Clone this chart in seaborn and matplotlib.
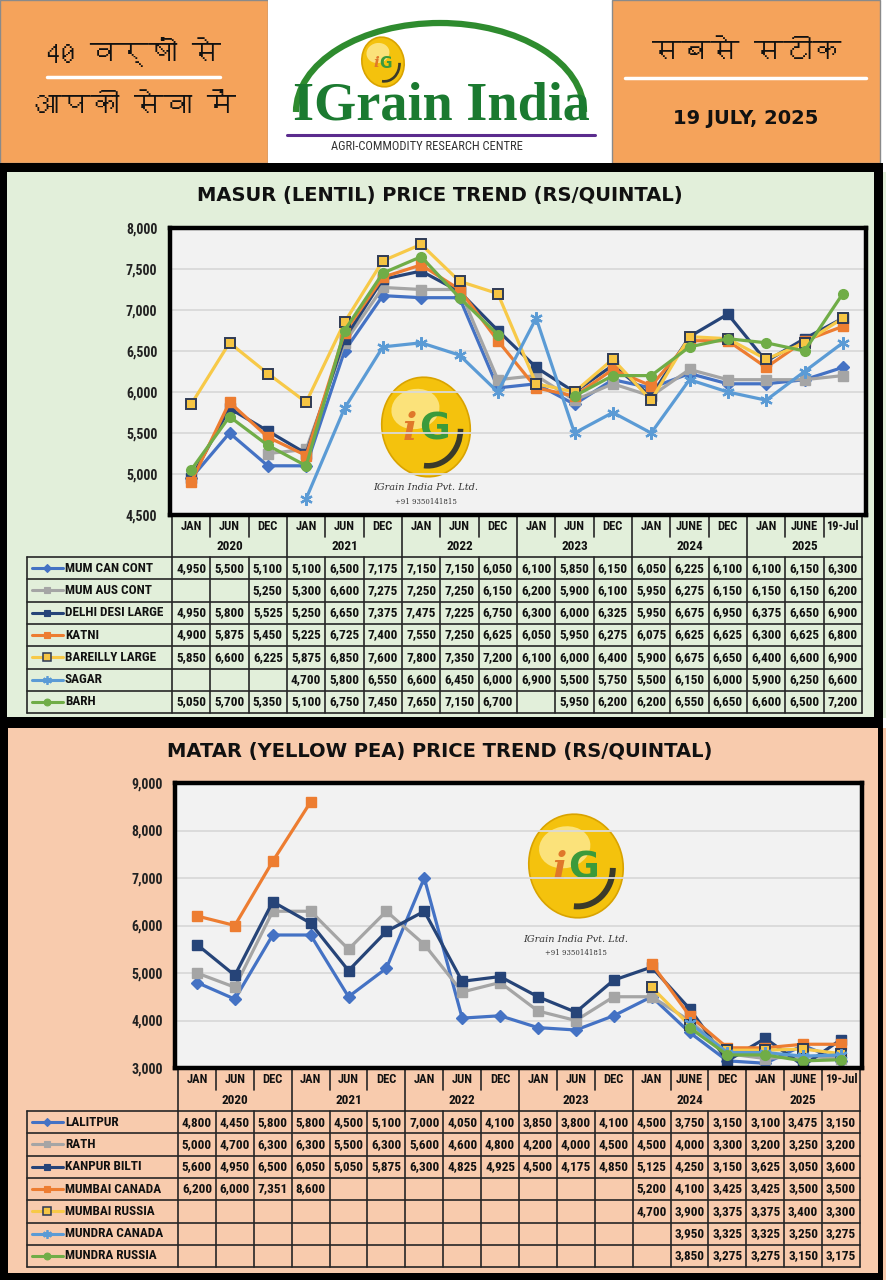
import numpy as np
import pandas as pd
import matplotlib
matplotlib.use("Agg")
import matplotlib.pyplot as plt
from matplotlib import font_manager as fm
from matplotlib.ft2font import FT2Font
from matplotlib.patches import Rectangle, Ellipse, Arc
import seaborn as sns

# ---------------- data ----------------
months = ["JAN", "JUN", "DEC", "JAN", "JUN", "DEC", "JAN", "JUN", "DEC",
          "JAN", "JUN", "DEC", "JAN", "JUNE", "DEC", "JAN", "JUNE", "19-Jul"]
years = ["2020", "2021", "2022", "2023", "2024", "2025"]

# masur (lentil), Rs/quintal
mum_can_cont = [4950, 5500, 5100, 5100, 6500, 7175, 7150, 7150, 6050, 6100, 5850, 6150, 6050, 6225, 6100, 6100, 6150, 6300]
mum_aus_cont = [None, None, 5250, 5300, 6600, 7275, 7250, 7250, 6150, 6200, 5900, 6100, 5950, 6275, 6150, 6150, 6150, 6200]
delhi_desi_large = [4950, 5800, 5525, 5250, 6650, 7375, 7475, 7225, 6750, 6300, 6000, 6325, 5950, 6675, 6950, 6375, 6650, 6900]
katni = [4900, 5875, 5450, 5225, 6725, 7400, 7550, 7250, 6625, 6050, 5950, 6275, 6075, 6625, 6625, 6300, 6625, 6800]
bareilly_large = [5850, 6600, 6225, 5875, 6850, 7600, 7800, 7350, 7200, 6100, 6000, 6400, 5900, 6675, 6650, 6400, 6600, 6900]
sagar = [None, None, None, 4700, 5800, 6550, 6600, 6450, 6000, 6900, 5500, 5750, 5500, 6150, 6000, 5900, 6250, 6600]
barh = [5050, 5700, 5350, 5100, 6750, 7450, 7650, 7150, 6700, None, 5950, 6200, 6200, 6550, 6650, 6600, 6500, 7200]

# matar (yellow pea), Rs/quintal
lalitpur = [4800, 4450, 5800, 5800, 4500, 5100, 7000, 4050, 4100, 3850, 3800, 4100, 4500, 3750, 3150, 3100, 3475, 3150]
rath = [5000, 4700, 6300, 6300, 5500, 6300, 5600, 4600, 4800, 4200, 4000, 4500, 4500, 4000, 3300, 3200, 3250, 3200]
kanpur_bilti = [5600, 4950, 6500, 6050, 5050, 5875, 6300, 4825, 4925, 4500, 4175, 4850, 5125, 4250, 3150, 3625, 3050, 3600]
mumbai_canada = [6200, 6000, 7351, 8600, None, None, None, None, None, None, None, None, 5200, 4100, 3425, 3425, 3500, 3500]
mumbai_russia = [None] * 12 + [4700, 3900, 3375, 3375, 3400, 3300]
mundra_canada = [None] * 13 + [3950, 3325, 3325, 3250, 3275]
mundra_russia = [None] * 13 + [3850, 3275, 3275, 3150, 3175]

masur_names = ["MUM CAN CONT", "MUM AUS CONT", "DELHI DESI LARGE", "KATNI", "BAREILLY LARGE", "SAGAR", "BARH"]
masur_data = [mum_can_cont, mum_aus_cont, delhi_desi_large, katni, bareilly_large, sagar, barh]
matar_names = ["LALITPUR", "RATH", "KANPUR BILTI", "MUMBAI CANADA", "MUMBAI RUSSIA", "MUNDRA CANADA", "MUNDRA RUSSIA"]
matar_data = [lalitpur, rath, kanpur_bilti, mumbai_canada, mumbai_russia, mundra_canada, mundra_russia]

# one style per series position (same Excel palette in both charts)
styles = [
    dict(color="#4472C4", marker="D", ms=6, mfc="#4472C4", mec="#4472C4", mew=1),
    dict(color="#A5A5A5", marker="s", ms=7, mfc="#A5A5A5", mec="#A5A5A5", mew=1),
    dict(color="#264478", marker="s", ms=7, mfc="#264478", mec="#264478", mew=1),
    dict(color="#ED7D31", marker="s", ms=7, mfc="#ED7D31", mec="#ED7D31", mew=1),
    dict(color="#F7C948", marker="s", ms=7.5, mfc="#F6C544", mec="#2F3B55", mew=1.4),
    dict(color="#5B9BD5", marker=(6, 2, 0), ms=9, mfc="#5B9BD5", mec="#5B9BD5", mew=1.6),
    dict(color="#70AD47", marker="o", ms=7, mfc="#70AD47", mec="#70AD47", mew=1),
]

# ---------------- fonts ----------------
sns.set_style("white")
installed = {f.name for f in fm.fontManager.ttflist}


def pick(cands):
    for c in cands:
        if c in installed:
            return c
    return "DejaVu Sans"


narrow = pick(["Liberation Sans Narrow", "Roboto Condensed", "Open Sans Condensed", "Liberation Sans"])
deva = None
for f in fm.fontManager.ttflist:
    try:
        if FT2Font(f.fname).get_char_index(0x0915):
            deva = f.name
            break
    except Exception:
        pass
deva_family = [deva, "DejaVu Sans"] if deva else ["DejaVu Sans"]
plt.rcParams["font.family"] = ["DejaVu Sans"]

W, H = 886, 1280
fig = plt.figure(figsize=(W / 100, H / 100), dpi=100)
bg = fig.add_axes([0, 0, 1, 1])
bg.set_xlim(0, W)
bg.set_ylim(H, 0)
bg.axis("off")


def px_axes(x0, y0, x1, y1):
    return fig.add_axes([x0 / W, 1 - y1 / H, (x1 - x0) / W, (y1 - y0) / H])


def logo_ball(cx, cy, w, h, fs):
    bg.add_patch(Ellipse((cx, cy), w, h, angle=-12, fc="#F4C20D", ec="#D9A300", lw=1.2, zorder=2))
    bg.add_patch(Ellipse((cx - w * 0.12, cy - h * 0.18), w * 0.55, h * 0.4, angle=-12, fc="#FBE27A", ec="none", zorder=2))
    bg.add_patch(Arc((cx, cy), w * 0.78, h * 0.78, angle=-12, theta1=15, theta2=105,
                     color="#3A3A2A", lw=max(1.5, w / 22), zorder=3))
    bg.text(cx - w * 0.1, cy + h * 0.02, "i", color="#E0782A", fontsize=fs, fontweight="bold",
            family="DejaVu Serif", style="italic", ha="right", va="center", zorder=4)
    bg.text(cx - w * 0.08, cy + h * 0.02, "G", color="#3B9A3B", fontsize=fs, fontweight="bold",
            ha="left", va="center", zorder=4)


# ---------------- header ----------------
orange = "#F5A35B"
bg.add_patch(Rectangle((0, 0), 268, 163, fc=orange, ec="#8a8a8a", lw=1))
bg.add_patch(Rectangle((268, 0), 344, 163, fc="white", ec="none"))
bg.add_patch(Rectangle((612, 0), 268, 163, fc=orange, ec="#8a8a8a", lw=1))

bg.text(134, 52, "40 वर्षों से", family=deva_family, fontsize=21, fontweight="bold",
        ha="center", va="center", color="#111")
bg.plot([47, 220], [77, 77], color="white", lw=2.5)
bg.text(134, 106, "आपकी सेवा में", family=deva_family, fontsize=21, fontweight="bold",
        ha="center", va="center", color="#111")
bg.text(747, 52, "सबसे सटीक", family=deva_family, fontsize=21, fontweight="bold",
        ha="center", va="center", color="#111")
bg.plot([625, 866], [78, 78], color="white", lw=2.5)
bg.text(746, 118, "19 JULY, 2025", fontsize=14, fontweight="bold", ha="center", va="center", color="#111")

bg.add_patch(Arc((440, 112), 288, 178, theta1=180, theta2=360, color="#2E8B2E", lw=4.5))
logo_ball(383, 62, 42, 50, 11)
bg.text(441, 106, "IGrain India", family="Liberation Serif", fontweight="bold", fontsize=39,
        color="#1B7A30", ha="center", va="center")
bg.plot([287, 595], [135, 135], color="#5B2C8E", lw=2.2)
bg.text(427, 146, "AGRI-COMMODITY RESEARCH CENTRE", family=narrow, fontsize=9, color="#333",
        ha="center", va="center")

# ---------------- panels ----------------
bg.add_patch(Rectangle((0, 163), 883, H - 163, fc="black", ec="none"))
bg.add_patch(Rectangle((883, 172), 3, 546, fc="#E2EFDA", ec="none"))
bg.add_patch(Rectangle((7, 172), 867, 545, fc="#E2EFDA", ec="none"))
bg.add_patch(Rectangle((8, 728), 870, 545, fc="#F8CBAD", ec="none"))
bg.add_patch(Rectangle((883, 728), 3, 552, fc="#F8CBAD", ec="none"))

panels = [
    dict(title="MASUR (LENTIL) PRICE TREND (RS/QUINTAL)", title_y=195,
         box=(170, 228, 866, 515), ylim=(4500, 8000), step=500,
         label_left=27, data_left=172, right=862, month_top=516, year_top=537, data_top=557, row_h=22.3,
         names=masur_names, data=masur_data, mark=(426, 427, 88, 100), mark_text=(488, 502)),
    dict(title="MATAR (YELLOW PEA) PRICE TREND (RS/QUINTAL)", title_y=751,
         box=(175, 783, 862, 1068), ylim=(3000, 9000), step=1000,
         label_left=27, data_left=178, right=860, month_top=1069, year_top=1090, data_top=1111, row_h=22.3,
         names=matar_names, data=matar_data, mark=(576, 866, 94, 104), mark_text=(939, 953)),
]

line_c = "#262626"
for p in panels:
    bg.text(440, p["title_y"], p["title"], fontsize=14, fontweight="bold", ha="center", va="center", color="#111")

    x0, y0, x1, y1 = p["box"]
    bg.add_patch(Rectangle((x0, y0), x1 - x0, y1 - y0, fc="#F2F2F2", ec="none"))
    cx, cy, mw, mh = p["mark"]
    logo_ball(cx, cy, mw, mh, 27)
    bg.text(cx, p["mark_text"][0], "IGrain India Pvt. Ltd.", family="DejaVu Serif", style="italic",
            fontsize=7, color="#333", ha="center", va="center", zorder=4)
    bg.text(cx, p["mark_text"][1], "+91 9350141815", family="DejaVu Serif", fontsize=5,
            color="#333", ha="center", va="center", zorder=4)

    # chart
    n_cols = len(months)
    cw = (p["right"] - p["data_left"]) / n_cols
    ax = px_axes(x0, y0, x1, y1)
    ax.set_facecolor("none")
    for vals, st in zip(p["data"], styles):
        df = pd.DataFrame({"period": np.arange(n_cols),
                           "price": [np.nan if v is None else v for v in vals]})
        df["seg"] = df["price"].isna().cumsum()
        df = df.dropna()
        sns.lineplot(data=df, x="period", y="price", units="seg", estimator=None, sort=False,
                     color=st["color"], lw=2.3, marker=st["marker"], markersize=st["ms"],
                     markerfacecolor=st["mfc"], markeredgecolor=st["mec"], markeredgewidth=st["mew"],
                     legend=False, ax=ax)
    ax.set_xlim((x0 - p["data_left"]) / cw - 0.5, (x1 - p["data_left"]) / cw - 0.5)
    ax.set_ylim(*p["ylim"])
    ax.set_xticks([])
    ticks = np.arange(p["ylim"][0], p["ylim"][1] + 1, p["step"])
    ax.set_yticks(ticks)
    ax.set_yticklabels([f"{t:,}" for t in ticks], family=narrow, fontweight="bold", fontsize=10, color="#222")
    ax.tick_params(axis="y", length=0, pad=9)
    ax.yaxis.grid(True, color="#D9D9D9", lw=1.3)
    ax.set_axisbelow(True)
    ax.set_xlabel("")
    ax.set_ylabel("")
    for s in ax.spines.values():
        s.set_visible(True)
        s.set_color("black")
        s.set_linewidth(3.2)

    # table under the chart
    xs = p["data_left"] + cw * np.arange(n_cols + 1)
    ym = (p["month_top"] + p["year_top"]) / 2
    yy = (p["year_top"] + p["data_top"]) / 2
    for i, m in enumerate(months):
        bg.text(xs[i] + cw / 2, ym, m, family=narrow, fontweight="bold", fontsize=9,
                ha="center", va="center", color="#111")
    for i in range(n_cols + 1):
        bottom = p["data_top"] if i % 3 == 0 else p["year_top"]
        bg.plot([xs[i], xs[i]], [p["month_top"], bottom], color=line_c, lw=1.2)
    for k, yr in enumerate(years):
        bg.text(xs[3 * k + 1] + cw / 2, yy, yr, family=narrow, fontweight="bold", fontsize=9.5,
                ha="center", va="center", color="#111")

    nr = len(p["names"])
    ys = p["data_top"] + p["row_h"] * np.arange(nr + 1)
    for y in ys:
        bg.plot([p["label_left"], p["right"]], [y, y], color=line_c, lw=1.2)
    for x in [p["label_left"]] + list(xs):
        bg.plot([x, x], [ys[0], ys[-1]], color=line_c, lw=1.2)
    for r, (name, vals, st) in enumerate(zip(p["names"], p["data"], styles)):
        yc = (ys[r] + ys[r + 1]) / 2
        lx = p["label_left"]
        bg.plot([lx + 5, lx + 20.5, lx + 36], [yc, yc, yc], color=st["color"], lw=2.2,
                marker=st["marker"], markevery=[1], markersize=st["ms"] * 0.7,
                markerfacecolor=st["mfc"], markeredgecolor=st["mec"], markeredgewidth=st["mew"] * 0.8)
        bg.text(lx + 38, yc, name, family=narrow, fontweight="bold", fontsize=9.5,
                ha="left", va="center", color="#111")
        for i, v in enumerate(vals):
            if v is not None:
                bg.text(xs[i] + cw / 2, yc, f"{v:,}", family=narrow, fontweight="bold", fontsize=9.5,
                        ha="center", va="center", color="#111")

fig.savefig("out.png", dpi=100)
